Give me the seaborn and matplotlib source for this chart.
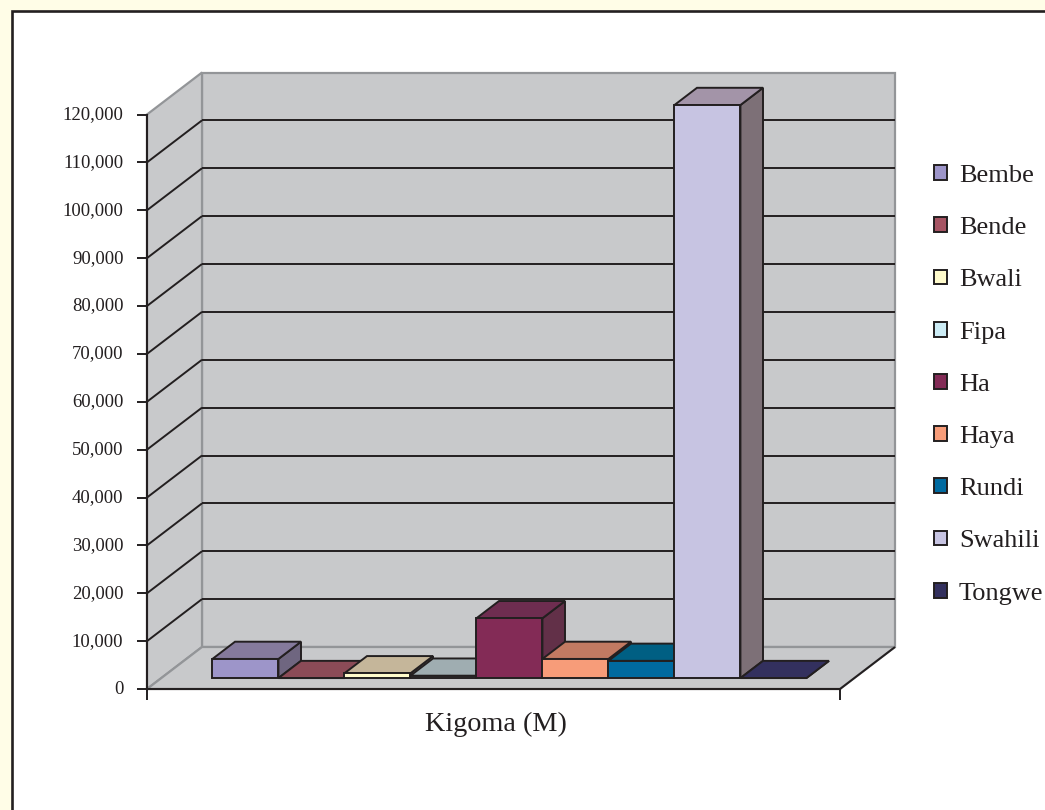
import pandas as pd
import matplotlib.pyplot as plt
import seaborn as sns
from matplotlib.patches import Polygon, Rectangle, Patch
from matplotlib.lines import Line2D
from matplotlib.transforms import Affine2D, IdentityTransform

languages = ['Bembe', 'Bende', 'Bwali', 'Fipa', 'Ha', 'Haya', 'Rundi', 'Swahili', 'Tongwe']
speakers = [4000, 0, 1000, 500, 12500, 4000, 3600, 119700, 0]
y_ticks = list(range(0, 130000, 10000))
group_label = 'Kigoma (M)'

front_colors = ['#9D95C9', '#A65463', '#FFFBCC', '#CCECF5', '#832B56', '#F79C79', '#006AA0', '#C7C4E2', '#33305E']
top_colors = ['#857A9C', '#8B4B57', '#C5B69A', '#9FADB1', '#6E2D50', '#C27A62', '#005F83', '#A394A8', '#33305E']
side_colors = ['#6F6680', '#6F3F49', '#A89A82', '#87959A', '#623048', '#A3664F', '#004D6B', '#7D7077', '#2A284E']

ink = '#231F20'
wall = '#C8C9CB'
wall_edge = '#939598'
# depth of the fake 3d box in pixels, and where the bars sit inside it
depth_x, depth_y = 55, 42
bar_front, bar_back = 0.26, 0.67

plt.rcParams['font.family'] = ['Liberation Serif', 'DejaVu Serif']

df = pd.DataFrame({'Language': languages, 'Speakers': speakers})

fig = plt.figure(figsize=(10.45, 8.1), dpi=100, facecolor='white')
W, H = 1045, 810

# page background and frame
fig.add_artist(Rectangle((0, 0), 1, 1, transform=fig.transFigure, facecolor='#FFFDE7', edgecolor='none', zorder=-3))
fig.add_artist(Rectangle((12 / W, -0.1), 1.1, 1 - 11.5 / H + 0.1, transform=fig.transFigure,
                         facecolor='white', edgecolor=ink, linewidth=1.9, zorder=-2))

ax = fig.add_axes([147 / W, (H - 689) / H, 693 / W, 574.5 / H])
ax.patch.set_visible(False)

sns.barplot(data=df, x='Language', y='Speakers', hue='Language', order=languages, hue_order=languages,
            palette=front_colors, saturation=1, width=1, dodge=False, legend=False, edgecolor=ink, linewidth=1.4,
            ax=ax)
bars = list(ax.patches)
ax.set_xlim(-1.275, 9.225)
ax.set_ylim(0, 120000)

pixels = IdentityTransform()


def pt(x, y, d=0.0):
    px, py = ax.transData.transform((x, y))
    return px + d * depth_x, py + d * depth_y


def face(points, color, edge=ink, z=1, lw=1.4):
    ax.add_patch(Polygon(points, closed=True, facecolor=color, edgecolor=edge, linewidth=lw, joinstyle='miter',
                         transform=pixels, clip_on=False, zorder=z))


def line(a, b, color=ink, z=2, lw=1.4):
    ax.add_line(Line2D([a[0], b[0]], [a[1], b[1]], color=color, lw=lw, transform=pixels, clip_on=False, zorder=z,
                       solid_capstyle='butt'))


x0, x1 = ax.get_xlim()
y_top = y_ticks[-1]

# walls and floor
face([pt(x0, 0, 1), pt(x1, 0, 1), pt(x1, y_top, 1), pt(x0, y_top, 1)], wall, wall_edge, 1, 1.6)
face([pt(x0, 0, 0), pt(x0, 0, 1), pt(x0, y_top, 1), pt(x0, y_top, 0)], wall, wall_edge, 1, 1.6)
face([pt(x0, 0, 0), pt(x1, 0, 0), pt(x1, 0, 1), pt(x0, 0, 1)], wall, wall_edge, 1, 1.6)

for v in y_ticks[1:-1]:
    line(pt(x0, v, 0), pt(x0, v, 1))
    line(pt(x0, v, 1), pt(x1, v, 1))
line(pt(x1, 0, 0), pt(x1, 0, 1), z=2)

# bars, left to right so the later ones overlap the earlier ones
shift = Affine2D().translate(bar_front * depth_x, bar_front * depth_y)
for i, bar in enumerate(bars):
    z = 3 + i
    left = bar.get_x()
    right = left + bar.get_width()
    val = bar.get_height()
    face([pt(right, 0, bar_front), pt(right, 0, bar_back), pt(right, val, bar_back), pt(right, val, bar_front)],
         side_colors[i], z=z)
    face([pt(left, val, bar_front), pt(right, val, bar_front), pt(right, val, bar_back), pt(left, val, bar_back)],
         top_colors[i], z=z)
    bar.set_transform(ax.transData + shift)
    bar.set_clip_on(False)
    bar.set_zorder(z + 0.5)

# axes
sns.despine(ax=ax, top=True, right=True)
for s in ['left', 'bottom']:
    ax.spines[s].set_color(ink)
    ax.spines[s].set_linewidth(1.5)
    ax.spines[s].set_zorder(2.5)
ax.set_yticks(y_ticks)
ax.set_yticklabels([f'{v:,}' for v in y_ticks])
ax.tick_params(axis='y', length=7, width=1.4, color=ink, labelcolor=ink, labelsize=13.5, pad=10)
label_up = Affine2D().translate(0, 2)
for label in ax.get_yticklabels():
    label.set_transform(label.get_transform() + label_up)
ax.set_xticks([x0, x1])
ax.set_xticklabels(['', ''])
ax.tick_params(axis='x', length=8, width=1.4, color=ink)
ax.set_ylabel('')
ax.set_xlabel(group_label, fontsize=20.3, color=ink)
ax.xaxis.set_label_coords(0.5036, -0.0615, transform=ax.transAxes)
ax.xaxis.label.set_verticalalignment('center')

handles = [Patch(facecolor=c, edgecolor=ink, linewidth=1.4, label=n) for c, n in zip(front_colors, languages)]
fig.legend(handles=handles, loc='upper left', bbox_to_anchor=(934 / W, 1 - 165 / H), frameon=False, borderpad=0,
           borderaxespad=0, fontsize=19, labelcolor=ink, handlelength=0.49, handleheight=0.49, handletextpad=0.45,
           labelspacing=1.144)

fig.savefig('out.png', dpi=100)
